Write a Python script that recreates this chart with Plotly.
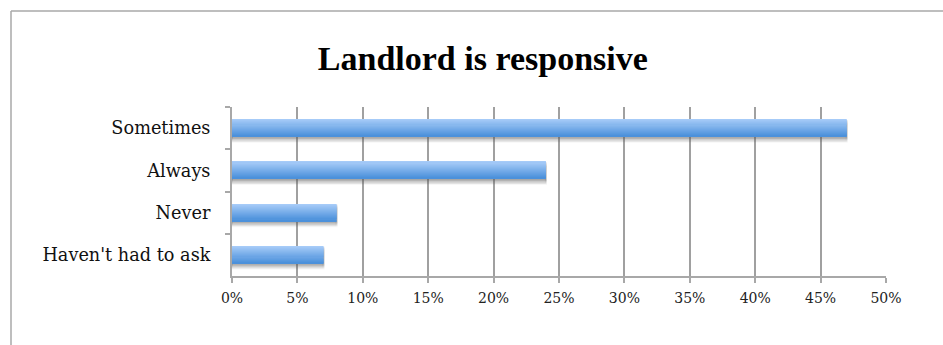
import plotly.graph_objects as go

# Survey responses: share of tenants per answer
categories = ["Sometimes", "Always", "Never", "Haven't had to ask"]
shares = [47, 24, 8, 7]
tick_values = [0, 5, 10, 15, 20, 25, 30, 35, 40, 45, 50]
tick_text = [f"{v}%" for v in tick_values]

TITLE_FONT = "Liberation Serif, DejaVu Serif, serif"
LABEL_FONT = "DejaVu Serif, Liberation Serif, serif"
BAR_W = 0.40
N_SLICES = 16
TOP = (166, 203, 248)
BOTTOM = (76, 145, 219)

fig = go.Figure()

# soft drop shadow under each bar
for off, alpha in [(0.12, 0.08), (0.09, 0.12), (0.06, 0.16), (0.03, 0.2)]:
    fig.add_trace(go.Bar(
        y=categories, x=shares, orientation="h",
        width=BAR_W, offset=-BAR_W / 2 + off,
        marker=dict(color=f"rgba(90,90,90,{alpha})",
                    line=dict(width=2, color=f"rgba(90,90,90,{alpha*0.6})")),
        hoverinfo="skip", showlegend=False,
    ))

# vertical gradient built from thin stacked slices
for i in range(N_SLICES):
    t = i / (N_SLICES - 1)
    r, g, b = (round(TOP[j] + (BOTTOM[j] - TOP[j]) * t) for j in range(3))
    fig.add_trace(go.Bar(
        y=categories, x=shares, orientation="h",
        width=BAR_W / N_SLICES * 1.15,
        offset=-BAR_W / 2 + i * BAR_W / N_SLICES,
        marker=dict(color=f"rgb({r},{g},{b})", line=dict(width=0)),
        hoverinfo="skip" if i else None, showlegend=False,
    ))

fig.update_layout(
    width=943, height=345,
    margin=dict(l=232, r=57, t=107, b=69),
    paper_bgcolor="white", plot_bgcolor="white",
    barmode="overlay",
    title=dict(text="<b>Landlord is responsive</b>", x=0.512, xanchor="center",
               y=0.832, yanchor="middle",
               font=dict(family=TITLE_FONT, size=34, color="black")),
    xaxis=dict(range=[0, 50], tickvals=tick_values, ticktext=tick_text,
               showgrid=True, gridcolor="#a0a0a0", gridwidth=1.5,
               showline=True, linecolor="#a8a8a8", linewidth=2,
               ticks="outside", ticklen=5, tickcolor="#a8a8a8", tickwidth=1.5,
               ticklabelstandoff=3,
               tickfont=dict(family=LABEL_FONT, size=14, color="#222"),
               zeroline=False, fixedrange=True),
    yaxis=dict(categoryorder="array", categoryarray=categories,
               autorange="reversed", tickson="boundaries",
               showline=True, linecolor="#a8a8a8", linewidth=2,
               ticks="outside", ticklen=5, tickcolor="#a8a8a8", tickwidth=1.5,
               ticklabelstandoff=16,
               tickfont=dict(family=LABEL_FONT, size=17.7, color="#111"),
               showgrid=False, fixedrange=True),
    shapes=[
        dict(type="line", xref="paper", yref="paper",
             x0=-221 / 654, x1=1.2, y0=(276 - 11) / 169, y1=(276 - 11) / 169,
             line=dict(color="#a8a8a8", width=1.5)),
        dict(type="line", xref="paper", yref="paper",
             x0=-221 / 654, x1=-221 / 654, y0=(276 - 11) / 169, y1=-0.5,
             line=dict(color="#a8a8a8", width=1.5)),
    ],
)

fig.write_html("out.html")
